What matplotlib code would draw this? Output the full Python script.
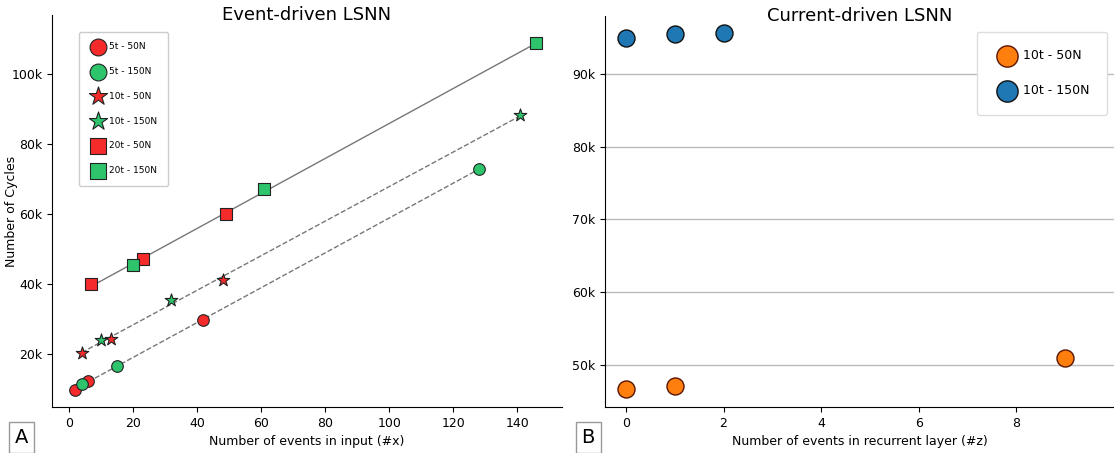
import numpy as np
import matplotlib
matplotlib.use("Agg")
import matplotlib.pyplot as plt
from matplotlib.ticker import FuncFormatter

# panel A: event-driven LSNN
x_5t_50 = [2, 6, 42]
y_5t_50 = [9700, 12200, 29700]
x_5t_150 = [4, 15, 128]
y_5t_150 = [11600, 16600, 72900]
x_10t_50 = [4, 13, 48]
y_10t_50 = [20300, 24300, 41200]
x_10t_150 = [10, 32, 141]
y_10t_150 = [24000, 35400, 88200]
x_20t_50 = [7, 23, 49]
y_20t_50 = [40000, 47100, 60000]
x_20t_150 = [20, 61, 146]
y_20t_150 = [45400, 67100, 108800]

# panel B: current-driven LSNN
z_50 = [0, 1, 9]
c_50 = [46700, 47100, 51000]
z_150 = [0, 1, 2]
c_150 = [94900, 95500, 95600]

red = '#f52b2b'
green = '#2ec46c'
orange = '#ff7f0e'
blue = '#1f77b4'

fig = plt.figure(figsize=(11.14, 4.53), dpi=100)
axA = fig.add_axes([0.0467, 0.1015, 0.4578, 0.8655])
axB = fig.add_axes([0.543, 0.1015, 0.457, 0.8635])

kfmt = FuncFormatter(lambda v, p: '%dk' % round(v / 1000))

# fit lines, one per time-step group
def fit_line(xs, ys, ls):
    xs = np.array(xs, float)
    ys = np.array(ys, float)
    k, b = np.polyfit(xs, ys, 1)
    xx = np.array([xs.min(), xs.max()])
    axA.plot(xx, k * xx + b, ls, color='#777777', lw=1, zorder=1)

fit_line(x_5t_50 + x_5t_150, y_5t_50 + y_5t_150, '--')
fit_line(x_10t_50 + x_10t_150, y_10t_50 + y_10t_150, '--')
fit_line(x_20t_50 + x_20t_150, y_20t_50 + y_20t_150, '-')

axA.scatter(x_5t_50, y_5t_50, s=70, marker='o', c=red, edgecolors='#222222', lw=0.8, zorder=3, label='5t - 50N')
axA.scatter(x_5t_150, y_5t_150, s=70, marker='o', c=green, edgecolors='#222222', lw=0.8, zorder=3, label='5t - 150N')
axA.scatter(x_10t_50, y_10t_50, s=90, marker='*', c=red, edgecolors='#222222', lw=0.8, zorder=3, label='10t - 50N')
axA.scatter(x_10t_150, y_10t_150, s=90, marker='*', c=green, edgecolors='#222222', lw=0.8, zorder=3, label='10t - 150N')
axA.scatter(x_20t_50, y_20t_50, s=70, marker='s', c=red, edgecolors='#222222', lw=0.8, zorder=3, label='20t - 50N')
axA.scatter(x_20t_150, y_20t_150, s=70, marker='s', c=green, edgecolors='#222222', lw=0.8, zorder=3, label='20t - 150N')

axA.set_xlim(-5.3, 154)
axA.set_ylim(4900, 116900)
axA.set_xticks([0, 20, 40, 60, 80, 100, 120, 140])
axA.set_yticks([20000, 40000, 60000, 80000, 100000])
axA.yaxis.set_major_formatter(kfmt)
axA.spines['top'].set_visible(False)
axA.spines['right'].set_visible(False)
axA.tick_params(labelsize=9)
axA.text(0.5, 1.0, 'Event-driven LSNN', transform=axA.transAxes, fontsize=13, ha='center', va='center')
axA.set_xlabel('Number of events in input (#x)', fontsize=9)
axA.set_ylabel('Number of Cycles', fontsize=9)
axA.yaxis.set_label_coords(-0.066, 0.5)
axA.legend(loc='upper left', bbox_to_anchor=(0.053, 0.957), borderaxespad=0, fontsize=6.5,
           markerscale=1.45, labelspacing=1.75, handletextpad=0.4, borderpad=1.15, handlelength=1.8,
           framealpha=1, edgecolor='#cccccc')

axB.grid(axis='y', color='#bbbbbb', lw=1, zorder=0)
axB.scatter(z_50, c_50, s=150, c=orange, edgecolors='#5a1500', lw=1, zorder=3, label='10t - 50N')
axB.scatter(z_150, c_150, s=150, c=blue, edgecolors='#111111', lw=1, zorder=3, label='10t - 150N')
axB.set_xlim(-0.43, 10.0)
axB.set_ylim(44200, 98000)
axB.set_xticks([0, 2, 4, 6, 8])
axB.set_yticks([50000, 60000, 70000, 80000, 90000])
axB.yaxis.set_major_formatter(kfmt)
axB.spines['top'].set_visible(False)
axB.spines['right'].set_visible(False)
axB.tick_params(labelsize=9)
axB.set_axisbelow(True)
axB.text(0.5, 1.0, 'Current-driven LSNN', transform=axB.transAxes, fontsize=13, ha='center', va='center')
axB.set_xlabel('Number of events in recurrent layer (#z)', fontsize=9)
axB.legend(loc='upper right', bbox_to_anchor=(0.986, 0.959), borderaxespad=0, fontsize=9,
           markerscale=1.25, labelspacing=1.75, handletextpad=0.3, borderpad=1.4,
           framealpha=1, edgecolor='#dddddd')

for label, xf in [('A', 0.0054), ('B', 0.5145)]:
    fig.text(xf + 0.0135, 0.034, label, fontsize=14, ha='center', va='center',
             bbox=dict(boxstyle='square,pad=0.3', fc='white', ec='#999999', lw=1))

fig.savefig('out.png', dpi=100)
